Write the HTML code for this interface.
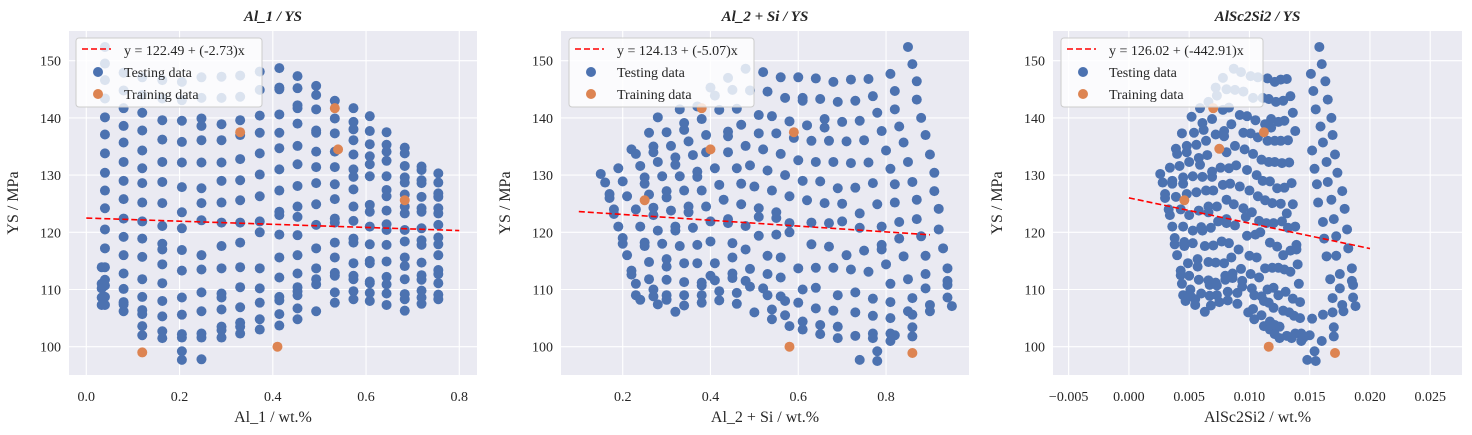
<!DOCTYPE html>
<html><head><meta charset="utf-8"><style>
body{margin:0;background:#fff;}
svg{display:block;font-family:"Liberation Serif",serif;}
</style></head><body>
<svg id="chart" width="1472" height="435"></svg>
<script>
const titles=["Al_1 / YS","Al_2 + Si / YS","AlSc2Si2 / YS"];
const xLabels=["Al_1 / wt.%","Al_2 + Si / wt.%","AlSc2Si2 / wt.%"];
const yTicks=[100,110,120,130,140,150];
const xTicks1=[0,0.2,0.4,0.6,0.8];
const xTickLabels1=["0.0","0.2","0.4","0.6","0.8"];
const xTicks2=[0.2,0.4,0.6,0.8];
const xTickLabels2=["0.2","0.4","0.6","0.8"];
const xTicks3=[-0.005,0,0.005,0.010,0.015,0.020,0.025];
const xTickLabels3=["\u22120.005","0.000","0.005","0.010","0.015","0.020","0.025"];
const intercepts=[122.49,124.13,126.02];
const slopes=[-2.73,-5.07,-442.91];
const lineStart=[0,0.1,0];
const lineEnd=[0.8,0.9,0.02];
const eqLabels=["y = 122.49 + (-2.73)x","y = 124.13 + (-5.07)x","y = 126.02 + (-442.91)x"];
const p1ColX=[0.04,0.08,0.12,0.163,0.205,0.247,0.29,0.33,0.372,0.414,0.453,0.493,0.533,0.573,0.608,0.644,0.683,0.719,0.755];
const p1ColY=[
[152.4,149.5,146.6,143.4,140.1,137.1,133.8,130.4,127.3,124.2,120.5,117.2,113.9,111.7,110.7,108.7,107.3],
[147.9,144.8,141.7,138.6,135.7,132.3,129.0,125.8,122.4,119.2,116.0,112.8,110.1,107.8,107.4,106.2],
[147.1,144.0,140.9,137.8,134.3,131.2,128.6,125.2,121.9,118.9,115.7,111.8,108.7,106.4,105.7,103.6,102.0],
[146.6,143.4,139.6,136.2,132.3,128.8,125.1,121.1,118.0,117.0,114.4,111.1,108.0,105.3,102.7,101.5],
[146.3,143.1,139.5,135.8,132.2,127.9,123.5,120.7,116.9,113.3,108.6,105.6,102.2,101.6,99.2,97.7],
[147.1,143.5,139.9,138.6,136.1,132.2,127.7,125.1,122.1,116.0,113.5,109.5,106.2,102.3,101.6,97.8],
[147.2,143.5,138.9,136.1,132.2,129.0,125.2,121.7,117.6,113.7,109.3,108.6,106.5,103.5,102.9,101.6],
[147.4,143.7,139.6,137.0,132.8,129.1,125.6,121.7,118.2,113.9,110.4,106.9,104.2,103.5,102.3],
[148.1,144.9,140.4,137.4,133.8,130.1,126.3,121.9,120.0,113.7,110.2,107.7,104.8,103.0],
[148.7,145.3,145.0,140.6,137.4,134.7,131.0,127.3,123.6,123.0,119.6,115.6,112.1,108.7,108.1,105.7,103.7],
[147.3,145.2,142.2,141.7,139.0,135.1,131.9,128.1,124.5,122.7,119.5,116.0,112.8,110.4,109.7,109.0,106.7,104.8],
[145.6,144.0,141.5,137.8,137.4,134.1,131.4,128.6,124.9,121.3,117.2,113.7,111.8,110.9,106.2],
[143.0,139.9,137.3,134.1,131.4,128.4,125.8,122.4,121.7,118.2,115.6,112.9,112.4,109.5,107.7],
[141.7,139.3,138.0,136.1,133.6,131.0,129.7,127.5,124.5,122.0,118.9,118.2,114.6,112.4,111.8,109.7,108.3],
[140.3,137.7,135.4,133.3,131.9,129.8,124.8,123.6,121.0,117.9,115.0,114.6,111.4,111.1,109.4,108.0],
[137.5,135.3,134.1,132.5,129.8,127.4,126.3,123.8,121.4,120.4,117.8,114.9,112.2,110.9,109.3,107.3],
[134.8,133.8,131.6,129.6,128.7,126.6,124.5,123.3,120.4,118.4,115.6,114.1,111.8,109.2,108.3,106.3],
[131.5,130.9,129.1,128.6,126.2,124.2,123.6,120.7,118.6,117.8,114.7,112.5,111.7,109.8,108.6,107.5],
[130.3,128.7,126.8,126.2,124.2,123.3,121.3,119.1,117.9,116.0,113.4,112.7,111.1,109.1,108.3]];
const p1Extra=[[0.033,111.0],[0.033,110.2],[0.033,108.6],[0.033,107.3],[0.033,113.9]];
const p1Train=[[0.12,99.0],[0.33,137.5],[0.41,100.0],[0.533,141.7],[0.54,134.5],[0.683,125.6]];
const p2Test=[[0.15,130.2],[0.16,128.7],[0.17,126.7],[0.17,126.0],[0.18,124.0],[0.18,123.2],[0.19,131.2],[0.19,121.0],[0.20,128.9],[0.20,119.0],[0.20,118.0],[0.21,126.3],[0.21,116.0],[0.22,134.5],[0.22,113.3],[0.22,112.6],[0.23,133.7],[0.23,124.0],[0.23,111.0],[0.23,109.0],[0.24,131.6],[0.24,121.0],[0.24,108.2],[0.25,129.6],[0.25,128.5],[0.25,118.2],[0.25,117.6],[0.26,137.4],[0.26,126.6],[0.26,114.8],[0.26,111.8],[0.27,135.0],[0.27,134.0],[0.27,124.3],[0.27,123.0],[0.27,110.0],[0.27,108.8],[0.28,132.3],[0.28,107.4],[0.28,120.3],[0.28,140.1],[0.29,129.8],[0.29,118.0],[0.30,137.5],[0.30,127.2],[0.30,126.1],[0.30,115.3],[0.30,114.0],[0.30,111.7],[0.30,109.0],[0.30,108.2],[0.31,135.1],[0.31,123.8],[0.32,133.1],[0.32,131.8],[0.32,121.0],[0.32,120.3],[0.32,106.1],[0.33,141.5],[0.33,129.8],[0.33,117.6],[0.34,139.1],[0.34,137.9],[0.34,127.3],[0.34,114.6],[0.34,111.3],[0.34,109.0],[0.34,107.2],[0.35,135.9],[0.35,124.5],[0.35,123.5],[0.36,133.5],[0.36,120.8],[0.37,142.0],[0.37,130.6],[0.37,129.7],[0.37,117.8],[0.37,114.6],[0.38,111.2],[0.38,110.7],[0.38,127.3],[0.38,139.8],[0.38,109.0],[0.38,107.7],[0.39,137.0],[0.39,124.5],[0.39,134.0],[0.40,145.3],[0.40,121.9],[0.40,118.4],[0.40,112.4],[0.41,143.9],[0.41,131.2],[0.41,114.6],[0.41,111.6],[0.42,141.4],[0.42,128.3],[0.42,109.7],[0.42,108.1],[0.43,125.7],[0.44,147.0],[0.44,137.6],[0.44,136.8],[0.44,122.3],[0.44,121.6],[0.44,134.0],[0.45,144.9],[0.45,118.1],[0.45,115.6],[0.45,112.8],[0.45,112.0],[0.46,141.6],[0.46,131.2],[0.46,109.4],[0.46,107.5],[0.47,128.5],[0.47,124.9],[0.47,138.8],[0.48,148.6],[0.48,135.1],[0.48,121.1],[0.48,117.0],[0.48,111.5],[0.49,144.8],[0.49,131.7],[0.49,113.6],[0.49,110.5],[0.50,128.0],[0.50,106.0],[0.51,140.5],[0.51,137.3],[0.51,124.2],[0.51,122.7],[0.51,119.4],[0.52,148.0],[0.52,134.5],[0.52,110.2],[0.53,144.6],[0.53,130.8],[0.53,115.9],[0.53,112.7],[0.53,109.0],[0.54,127.3],[0.54,106.5],[0.54,104.8],[0.54,140.3],[0.55,137.3],[0.55,123.5],[0.55,122.5],[0.55,119.6],[0.56,147.1],[0.56,133.7],[0.56,115.6],[0.56,112.1],[0.56,108.8],[0.57,143.5],[0.57,130.0],[0.57,108.0],[0.57,105.5],[0.58,126.3],[0.58,139.4],[0.58,121.6],[0.58,120.0],[0.58,103.6],[0.59,136.5],[0.60,147.1],[0.60,132.6],[0.60,113.7],[0.60,107.7],[0.61,143.5],[0.61,143.0],[0.61,129.0],[0.61,110.0],[0.61,104.4],[0.61,103.0],[0.62,125.6],[0.62,138.7],[0.63,136.0],[0.63,121.7],[0.63,117.9],[0.64,146.9],[0.64,132.3],[0.64,113.8],[0.64,110.3],[0.64,106.7],[0.65,143.3],[0.65,128.9],[0.65,103.8],[0.65,102.2],[0.66,139.8],[0.66,138.3],[0.66,125.1],[0.67,136.0],[0.67,121.6],[0.67,117.5],[0.68,146.3],[0.68,132.3],[0.68,113.8],[0.68,106.3],[0.69,142.8],[0.69,127.7],[0.69,109.0],[0.69,103.5],[0.69,101.5],[0.70,139.3],[0.70,125.0],[0.70,121.9],[0.71,135.9],[0.71,116.0],[0.72,146.7],[0.72,132.1],[0.72,113.5],[0.73,143.0],[0.73,127.8],[0.73,109.5],[0.73,106.0],[0.73,101.9],[0.74,139.5],[0.74,123.3],[0.74,120.8],[0.74,97.7],[0.75,136.1],[0.75,116.8],[0.76,146.8],[0.76,132.2],[0.76,113.1],[0.77,143.8],[0.77,128.6],[0.77,108.4],[0.77,105.4],[0.77,102.3],[0.77,101.5],[0.78,140.9],[0.78,124.9],[0.78,99.2],[0.78,97.5],[0.79,137.7],[0.79,121.0],[0.79,117.8],[0.79,117.0],[0.80,134.3],[0.80,114.4],[0.81,147.7],[0.81,131.1],[0.81,111.0],[0.81,107.8],[0.81,105.0],[0.81,102.3],[0.81,101.0],[0.82,144.7],[0.82,128.4],[0.82,102.0],[0.82,141.5],[0.82,125.2],[0.83,121.8],[0.83,138.5],[0.83,118.9],[0.84,135.7],[0.84,115.8],[0.85,152.4],[0.85,132.3],[0.85,111.8],[0.85,106.2],[0.86,149.4],[0.86,128.8],[0.86,108.5],[0.86,105.6],[0.86,103.4],[0.86,101.8],[0.87,146.4],[0.87,125.7],[0.87,143.2],[0.87,122.3],[0.88,140.0],[0.88,119.3],[0.89,137.0],[0.89,115.9],[0.89,112.7],[0.89,110.2],[0.90,133.6],[0.90,107.3],[0.90,106.2],[0.91,130.4],[0.91,127.2],[0.92,124.1],[0.92,120.5],[0.93,117.2],[0.94,113.7],[0.94,111.5],[0.94,110.8],[0.94,108.6],[0.95,107.1]];
const p2Train=[[0.25,125.6],[0.38,141.7],[0.40,134.5],[0.59,137.5],[0.58,100.0],[0.86,98.9]];
const p3Test=[[0.0026,130.2],[0.0028,128.7],[0.0030,126.7],[0.0030,126.0],[0.0033,124.0],[0.0034,123.0],[0.0034,131.3],[0.0036,121.0],[0.0036,129.0],[0.0036,128.5],[0.0038,119.0],[0.0038,117.9],[0.0039,134.6],[0.0039,126.2],[0.0040,116.0],[0.0040,133.7],[0.0042,131.6],[0.0043,124.0],[0.0043,113.3],[0.0043,112.5],[0.0044,111.0],[0.0044,137.3],[0.0045,129.6],[0.0045,128.5],[0.0045,121.0],[0.0045,109.0],[0.0046,118.3],[0.0046,117.6],[0.0047,108.0],[0.0048,135.1],[0.0048,134.0],[0.0048,126.7],[0.0049,114.6],[0.0050,132.3],[0.0050,123.0],[0.0050,112.4],[0.0051,110.0],[0.0051,108.9],[0.0052,140.2],[0.0053,129.8],[0.0053,120.3],[0.0053,118.1],[0.0054,137.4],[0.0055,107.3],[0.0055,108.3],[0.0056,127.0],[0.0056,135.3],[0.0057,115.3],[0.0057,114.0],[0.0058,133.0],[0.0058,123.8],[0.0058,111.7],[0.0059,141.7],[0.0059,131.8],[0.0060,120.9],[0.0060,109.3],[0.0061,139.1],[0.0061,129.7],[0.0061,120.3],[0.0062,137.9],[0.0063,117.6],[0.0063,106.1],[0.0064,127.3],[0.0064,136.0],[0.0065,133.5],[0.0066,142.8],[0.0066,114.8],[0.0066,111.6],[0.0066,124.5],[0.0066,123.5],[0.0067,110.8],[0.0067,108.9],[0.0068,120.8],[0.0068,107.2],[0.0069,130.6],[0.0069,129.7],[0.0069,139.8],[0.0070,117.7],[0.0070,127.3],[0.0072,145.3],[0.0072,137.1],[0.0072,114.7],[0.0072,111.2],[0.0073,143.9],[0.0073,124.5],[0.0073,110.7],[0.0073,109.0],[0.0074,121.9],[0.0075,107.8],[0.0076,131.3],[0.0077,118.4],[0.0078,147.0],[0.0078,141.4],[0.0078,128.3],[0.0079,137.7],[0.0079,136.8],[0.0079,114.6],[0.0080,112.4],[0.0080,111.7],[0.0081,145.0],[0.0081,134.0],[0.0081,125.7],[0.0081,122.3],[0.0081,121.6],[0.0082,109.6],[0.0082,108.1],[0.0083,131.2],[0.0083,118.1],[0.0083,141.8],[0.0084,128.5],[0.0085,138.9],[0.0085,115.6],[0.0086,112.8],[0.0086,112.0],[0.0087,148.6],[0.0087,124.9],[0.0088,144.9],[0.0088,135.1],[0.0088,121.2],[0.0089,131.7],[0.0090,109.4],[0.0090,107.5],[0.0091,117.0],[0.0092,140.5],[0.0092,128.0],[0.0093,148.0],[0.0093,113.6],[0.0094,111.5],[0.0094,110.5],[0.0095,137.4],[0.0095,124.2],[0.0095,144.6],[0.0096,134.5],[0.0097,122.7],[0.0098,140.3],[0.0098,130.9],[0.0098,119.4],[0.0099,106.0],[0.0100,127.3],[0.0100,115.9],[0.0101,147.3],[0.0101,137.3],[0.0101,112.7],[0.0102,110.2],[0.0102,123.5],[0.0103,106.6],[0.0103,143.5],[0.0103,133.7],[0.0104,109.0],[0.0104,104.8],[0.0105,119.6],[0.0105,139.6],[0.0106,130.0],[0.0106,115.6],[0.0107,147.1],[0.0107,136.6],[0.0107,126.3],[0.0108,112.1],[0.0108,122.0],[0.0109,120.0],[0.0110,108.8],[0.0110,105.5],[0.0110,132.7],[0.0111,143.5],[0.0111,129.0],[0.0112,108.0],[0.0112,103.6],[0.0113,138.9],[0.0113,125.6],[0.0113,113.7],[0.0114,121.6],[0.0115,146.9],[0.0115,136.0],[0.0115,110.0],[0.0116,143.3],[0.0116,132.3],[0.0116,107.7],[0.0117,128.9],[0.0117,118.2],[0.0117,104.4],[0.0117,103.0],[0.0118,139.8],[0.0118,138.3],[0.0119,125.1],[0.0119,113.8],[0.0120,121.6],[0.0120,110.3],[0.0120,106.8],[0.0121,146.3],[0.0121,136.0],[0.0121,132.3],[0.0121,103.8],[0.0121,102.2],[0.0122,142.8],[0.0123,127.7],[0.0123,117.5],[0.0124,139.3],[0.0124,113.8],[0.0124,109.0],[0.0125,103.5],[0.0125,101.5],[0.0126,146.7],[0.0126,136.0],[0.0126,125.0],[0.0127,132.1],[0.0127,121.9],[0.0128,143.0],[0.0128,116.0],[0.0128,106.3],[0.0129,139.5],[0.0129,127.8],[0.0129,113.5],[0.0130,109.6],[0.0131,146.8],[0.0131,123.3],[0.0131,101.9],[0.0132,136.1],[0.0132,120.8],[0.0133,132.2],[0.0133,106.0],[0.0134,143.8],[0.0134,116.8],[0.0134,113.1],[0.0135,128.6],[0.0135,101.5],[0.0136,140.9],[0.0136,124.9],[0.0136,108.4],[0.0137,105.4],[0.0148,97.7],[0.0138,137.7],[0.0138,121.0],[0.0138,102.3],[0.0152,134.3],[0.0139,117.8],[0.0139,117.0],[0.0151,147.7],[0.0140,114.4],[0.0154,99.2],[0.0155,97.5],[0.0154,131.1],[0.0141,111.0],[0.0153,144.7],[0.0156,128.4],[0.0142,107.8],[0.0142,105.0],[0.0155,141.5],[0.0157,125.2],[0.0143,102.3],[0.0143,101.0],[0.0161,121.8],[0.0159,138.5],[0.0162,118.9],[0.0161,135.7],[0.0164,115.8],[0.0158,152.4],[0.0160,149.4],[0.0164,132.3],[0.0167,111.8],[0.0163,146.4],[0.0165,128.8],[0.0169,106.0],[0.0169,108.5],[0.0165,143.2],[0.0168,125.7],[0.0161,105.6],[0.0170,103.4],[0.0170,101.8],[0.0168,140.0],[0.0170,122.3],[0.0169,137.0],[0.0172,119.3],[0.0171,133.6],[0.0172,115.9],[0.0173,130.4],[0.0175,112.7],[0.0175,110.2],[0.0177,127.2],[0.0177,107.3],[0.0178,106.2],[0.0179,124.1],[0.0181,120.5],[0.0182,117.2],[0.0185,113.7],[0.0185,111.5],[0.0186,110.8],[0.0186,108.6],[0.0188,107.1],[0.0150,102.0],[0.0152,104.9],[0.0145,101.6],[0.0160,101.0]];
const p3Train=[[0.0046,125.6],[0.0070,141.7],[0.0075,134.6],[0.0112,137.5],[0.0116,100.0],[0.0171,98.9]];

const p1Test=[];
p1ColX.forEach((x,i)=>p1ColY[i].forEach(y=>p1Test.push([x,y])));
p1Extra.forEach(p=>p1Test.push(p));

const NS="http://www.w3.org/2000/svg";
const svgRoot=document.getElementById('chart');
function mk(tag,attrs,parent){const e=document.createElementNS(NS,tag);for(const k in attrs)e.setAttribute(k,attrs[k]);(parent||svgRoot).appendChild(e);return e;}

const panels=[
 {left:69,right:477,x0:0,x0px:86.3,scale:466.25,ticks:xTicks1,labels:xTickLabels1,test:p1Test,train:p1Train,legL:76,legW:186},
 {left:561,right:969,x0:0.2,x0px:622.7,scale:438.9,ticks:xTicks2,labels:xTickLabels2,test:p2Test,train:p2Train,legL:569,legW:185},
 {left:1053,right:1462,x0:0,x0px:1128.9,scale:12053,ticks:xTicks3,labels:xTickLabels3,test:p3Test,train:p3Train,legL:1061,legW:202}
];
const plotTop=31,plotBottom=375;
const yScale=v=>346.7-(v-100)*5.72;

panels.forEach((p,i)=>{
 const xs=v=>p.x0px+(v-p.x0)*p.scale;
 const g=mk('g',{});
 
 
 const bg=mk('rect',{x:p.left,y:plotTop,width:p.right-p.left,height:plotBottom-plotTop,fill:'#eaeaf2'},g);
 
 
 yTicks.forEach(t=>{
  const y=yScale(t);
  const gl=mk('line',{x1:p.left,x2:p.right,y1:y,y2:y,stroke:'#fff','stroke-width':1.1},g);
  
  
  const tl=mk('text',{x:p.left-8,y:y+5,'text-anchor':'end','font-size':14,fill:'#262626'},g);
  tl.textContent=t;
  
  
 });
 p.ticks.forEach((t,j)=>{
  const x=xs(t);
  const gl=mk('line',{x1:x,x2:x,y1:plotTop,y2:plotBottom,stroke:'#fff','stroke-width':1.1},g);
  
  
  const tl=mk('text',{x:x,y:401,'text-anchor':'middle','font-size':14,fill:'#262626'},g);
  tl.textContent=p.labels[j];
  
  
 });
 p.test.forEach(d=>{
  const c=mk('circle',{cx:xs(d[0]),cy:yScale(d[1]),r:5,fill:'#4c72b0'},g);
  
  
 });
 p.train.forEach(d=>{
  const c=mk('circle',{cx:xs(d[0]),cy:yScale(d[1]),r:5,fill:'#dd8452'},g);
  
  
 });
 const xa=lineStart[i],xb=lineEnd[i];
 const fl=mk('line',{x1:xs(xa),y1:yScale(intercepts[i]+slopes[i]*xa),x2:xs(xb),y2:yScale(intercepts[i]+slopes[i]*xb),stroke:'#ff0000','stroke-width':1.6,'stroke-dasharray':'6,3'},g);
 
 
 const tt=mk('text',{x:(p.left+p.right)/2,y:21,'text-anchor':'middle','font-size':15,'font-weight':'bold','font-style':'italic',fill:'#262626'},g);
 tt.textContent=titles[i];
 
 
 const xl=mk('text',{x:(p.left+p.right)/2,y:422,'text-anchor':'middle','font-size':16,fill:'#262626'},g);
 xl.textContent=xLabels[i];
 
 
 const yx=p.left-51;
 const yl=mk('text',{x:yx,y:203,'text-anchor':'middle','font-size':16,fill:'#262626',transform:'rotate(-90 '+yx+' 203)'},g);
 yl.textContent='YS / MPa';
 
 
 const lg=mk('g',{},g);
 
 
 const L=p.legL;
 mk('rect',{x:L,y:38,width:p.legW,height:69,rx:3,fill:'#ffffff','fill-opacity':0.8,stroke:'#cccccc','stroke-width':1},lg);
 mk('line',{x1:L+6,x2:L+35,y1:49,y2:49,stroke:'#ff0000','stroke-width':1.6,'stroke-dasharray':'6,3'},lg);
 mk('circle',{cx:L+22,cy:72,r:5,fill:'#4c72b0'},lg);
 mk('circle',{cx:L+22,cy:94,r:5,fill:'#dd8452'},lg);
 const t1=mk('text',{x:L+48,y:55,'font-size':14,fill:'#262626'},lg);t1.textContent=eqLabels[i];
 
 
 const t2=mk('text',{x:L+48,y:77,'font-size':14,fill:'#262626'},lg);t2.textContent='Testing data';
 
 
 const t3=mk('text',{x:L+48,y:99,'font-size':14,fill:'#262626'},lg);t3.textContent='Training data';
 
 
});
</script>
</body></html>
